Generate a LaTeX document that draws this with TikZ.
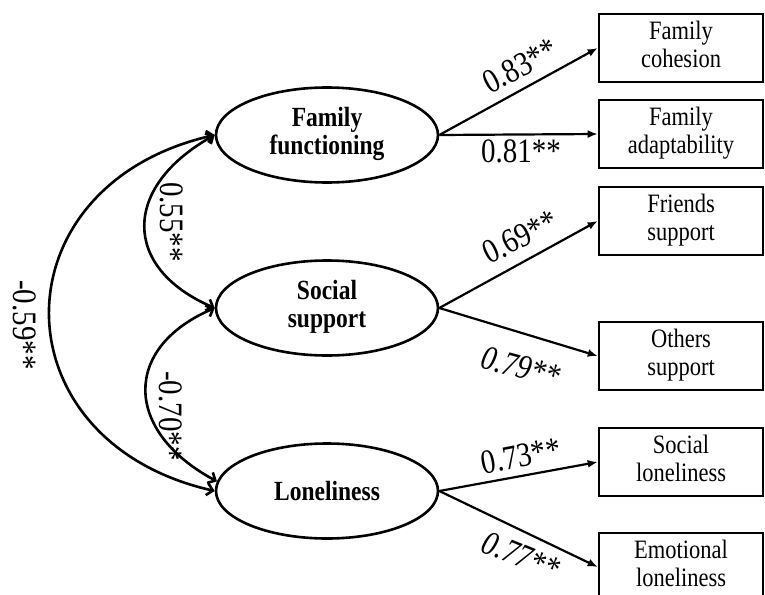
\documentclass[tikz,border=0pt]{standalone}
\usepackage{fontspec}
\usepackage{graphicx}
\setmainfont{Liberation Serif}
\usetikzlibrary{shapes.geometric,arrows.meta}
\newcommand{\vstretch}[1]{\scalebox{1}[1.18]{#1}}
\newcommand{\twoline}[2]{\vstretch{\begin{tabular}{@{}c@{}}#1\\#2\end{tabular}}}
\begin{document}
\begin{tikzpicture}[x=1pt,y=-1pt,
 lat/.style={draw,ellipse,line width=2.6pt,minimum width=222pt,minimum height=95pt,inner sep=0pt,align=center,font=\fontsize{23.5}{23}\selectfont\bfseries},
 obs/.style={draw,rectangle,line width=2.6pt,minimum width=164pt,minimum height=68pt,inner sep=0pt,align=center,font=\fontsize{22.5}{24}\selectfont},
 load/.style={line width=2.2pt,-{Latex[length=10pt,width=8pt]}},
 cov/.style={line width=2.6pt,{Straight Barb[length=6pt,width=12pt]}-{Straight Barb[length=6pt,width=12pt]}},
 lab/.style={font=\fontsize{29}{32}\selectfont,inner sep=0pt},
 ilab/.style={font=\fontsize{29}{32}\selectfont\itshape,inner sep=0pt}
]
\clip (0,0) rectangle (765,594);
% latent variables
\node[lat] (ff)  at (327,135) {\twoline{Family}{functioning}};
\node[lat] (ss)  at (327,308) {\twoline{Social}{support}};
\node[lat] (lon) at (327,491) {\vstretch{Loneliness}};
% observed variables
\node[obs] (coh) at (681,48)  {\twoline{Family}{cohesion}};
\node[obs] (ada) at (681,134) {\twoline{Family}{adaptability}};
\node[obs] (fri) at (681,221) {\twoline{Friends}{support}};
\node[obs] (oth) at (681,356) {\twoline{Others}{support}};
\node[obs] (sol) at (681,462) {\twoline{Social}{loneliness}};
\node[obs] (eml) at (681,567) {\twoline{Emotional}{loneliness}};
% loadings
\draw[load] (ff.east) -- (coh.west);
\draw[load] (ff.east) -- (ada.west);
\draw[load] (ss.east) -- (fri.west);
\draw[load] (ss.east) -- (oth.west);
\draw[load] (lon.east) -- (sol.west);
\draw[load] (lon.east) -- (eml.west);
% covariances
\draw[cov] (ff.west) .. controls +(-93,52) and +(-93,-40) .. (ss.west);
\draw[cov] (ss.west) .. controls +(-93,40) and +(-93,-50) .. (lon.175);
\draw[cov] (ff.west) .. controls +(-220,50) and +(-220,-50) .. (lon.west);
% labels
\node[lab,rotate=28] (l1) at (520,66) {\vstretch{0.83**}};
\node[lab] (l2) at (521,151) {\vstretch{0.81**}};
\node[lab,rotate=26] (l3) at (520,237) {\vstretch{0.69**}};
\node[ilab,rotate=-15] (l4) at (521,367) {\vstretch{0.79**}};
\node[lab,rotate=11] (l5) at (521,456) {\vstretch{0.73**}};
\node[ilab,rotate=-22] (l6) at (521,556) {\vstretch{0.77**}};
\node[lab,rotate=-90] (l7) at (172,222) {\vstretch{0.55**}};
\node[lab,rotate=-90] (l8) at (171,416) {\vstretch{-0.70**}};
\node[lab,rotate=-90] (l9) at (25,325) {\vstretch{-0.59**}};
\end{tikzpicture}
\end{document}
